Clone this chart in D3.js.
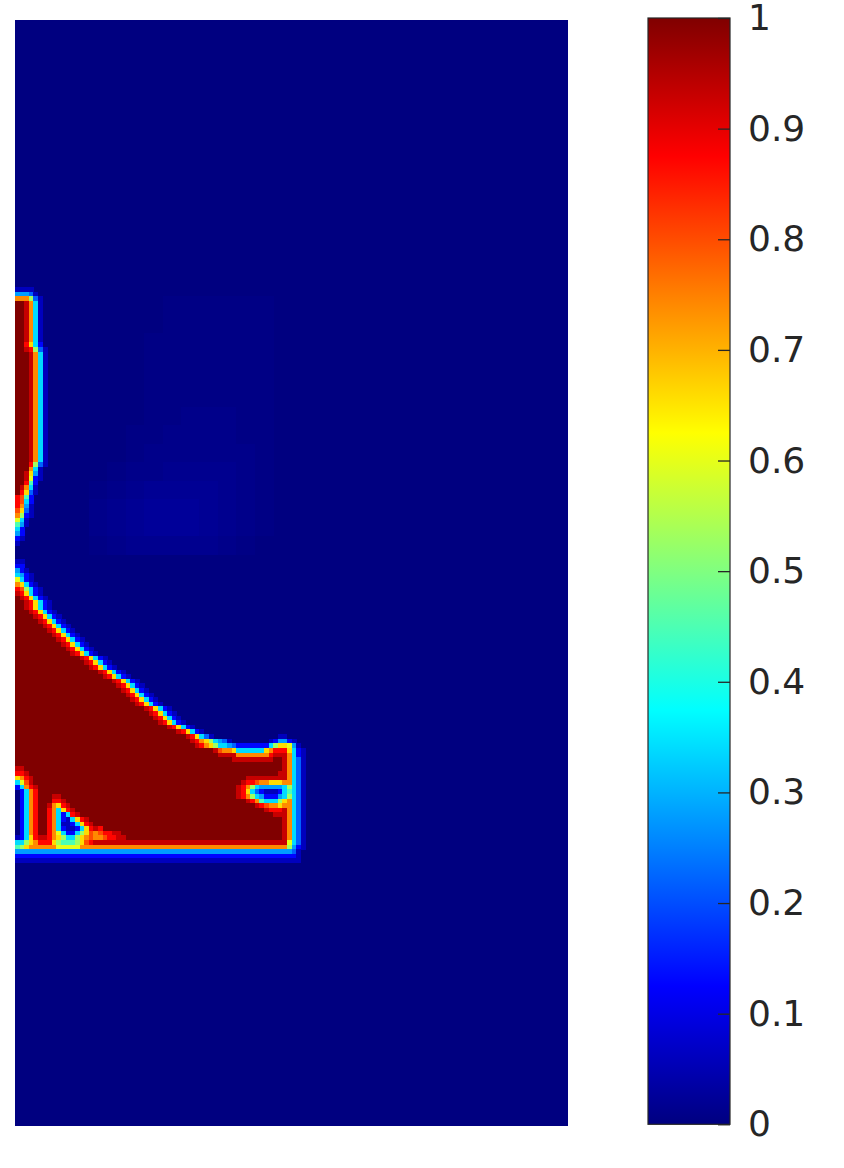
<!DOCTYPE html>
<html>
<head>
<meta charset="utf-8">
<script src="https://cdn.jsdelivr.net/npm/d3@7"></script>
<style>
body { margin: 0; background: #fff; }
svg { display: block; overflow: visible; }
</style>
</head>
<body>
<svg width="844" height="1168"></svg>
<script>
var svg = d3.select("svg");

// density field is 120 x 240 cells, everything outside the rows below is 0
var nCols = 120, nRows = 240;
var firstRow = 58;

// one char per density level
var levelKeys = ".dbBscagyYoOrR#";
var levelVals = [0, 0.06, 0.13, 0.22, 0.28, 0.34, 0.45, 0.53, 0.6, 0.66, 0.74, 0.8, 0.87, 0.93, 1];

// rows 58..182, run length coded: level char + count (no count = 1), rest of row = 0
var densityRows = [
  "d4", "s3Bd", "o3gBd",
  "#2Rocd", "#2Rocd", "#2Rocd", "#2Rocd", "#2Rocd", "#2Rocd", "#2Rocd", "#2Rocd", "#2Rocd",
  "#2rYcb", "#2RrgBd",
  "#3Rocd", "#3Rocd", "#3Rocd", "#3Rocd", "#3Rocd", "#3Rocd", "#3Rocd", "#3Rocd",
  "#3Rocd", "#3Rocd", "#3Rocd", "#3Rocd", "#3Rocd", "#3Rocd", "#3Rocd", "#3Rocd",
  "#3Rocd", "#3Rocd", "#3Rocd", "#3Rocd", "#3Rocd", "#3Rocd", "#3Rocd", "#3Rocd",
  "#3rgBd", "#3ocd", "#2RYsd", "#2Rybd", "#2rab", "#Rocd", "#rYBd", "rOab", "rOcb",
  "rosd", "OYBd", "ogbd", "ycd", "asd", "cb", "sb", "bd", "d",
  "", "", "",
  "d2", "b2", "sbd", "csbd", "ycbd", "oYcbd", "rOgcbd",
  "RrYcbd", "#RrYcbd", "#2RrYcbd", "#2RrYcbd", "#3RrYcbd", "#4RrYcbd", "#5RrYcbd",
  "#6RrYcbd", "#7RrYcbd", "#8RrYcbd", "#9RrYcbd", "#10RrYcbd", "#11RrYcbd", "#12RrYcbd",
  "#14RrYcbd", "#15RrYcbd", "#16RrYcbd", "#18RrYcbd", "#19RrYcbd", "#21RrYcbd", "#22RrYcbd",
  "#23RrYcbd", "#24RrYcbd", "#25RrYcbd", "#26RrYcbd", "#28RrYcbd", "#29RrYcbd", "#30RrYcbd",
  "#31RrYcbd", "#33RrYcbd", "#35RrYcbd",
  "#37RrYcBd.14d2",
  "#38RroYgcsBd.8dbs2bd",
  "#39RroYgc2sBb7cgY2ysd",
  "#43ROo2Yc6Yor3Ycbd",
  "#44R4o7rR3ocbd",
  "#47R9#2RocBd",
  "#58RocBd",
  "R2#56RocBd",
  "r2R#54R2ocBd",
  "YorR#46R9ocBd",
  "cyOR#45Rr2Oo2Y3o2cBd",
  "bcorR#43Rrogcs5cgcBd",
  ".bcor#43RrYcBbd3bcacBd",
  ".bcor#3R2#38Rrogcsb3scgcBd",
  ".bcor#3r2R#39Rroac3gYocBd",
  ".bcor#2RoYrR#40RrOo2Yo2cBd",
  ".bcor#2rocYrR#41Rr3RocBd",
  ".bcor#2rocbcrR#42R3ocBd",
  ".bcor#2rocbdcYrR#42RocBd",
  ".bcor#2rocd2bcYrR#41RocBd",
  ".bcor#2rocbd2bcYrRr#39RocBd",
  ".bcor#2roycb2cgYOoOr2R2#35RocBd",
  "dbcYrR2roYgc2gYoOo2Or2R2#34RocBd",
  "c2gYor3Yga3gYOrR42ycBd",
  "agYo6y5o45gsbd",
  "s60Bd",
  "b61d",
  "d62"
];

// faint low density patch, 4x4 cell blocks from row 56 / col 12, digit * 0.005
var blobRow0 = 56, blobCol0 = 12, blobStep = 4, blobLevel = 0.005;
var blobRows = [
  "000000000000",
  "000001111110",
  "000001111110",
  "000011111110",
  "000011111110",
  "000011111110",
  "000011111110",
  "000011222110",
  "000112222110",
  "000122222210",
  "001223333210",
  "012344443210",
  "023455543210",
  "023455543210",
  "012333332100",
  "000000000000"
];

var cbTicks = [0, 0.1, 0.2, 0.3, 0.4, 0.5, 0.6, 0.7, 0.8, 0.9, 1];
var cbLabels = ["0", "0.1", "0.2", "0.3", "0.4", "0.5", "0.6", "0.7", "0.8", "0.9", "1"];

// jet colormap
var jet = d3.scaleLinear()
  .domain([0, 0.125, 0.375, 0.625, 0.875, 1])
  .range(["#000080", "#0000ff", "#00ffff", "#ffff00", "#ff0000", "#800000"])
  .clamp(true);

function decodeRow(s) {
  var out = [];
  s.replace(/(\D)(\d*)/g, function (m, ch, n) {
    var k = n ? +n : 1;
    for (var i = 0; i < k; i++) out.push(levelVals[levelKeys.indexOf(ch)]);
    return m;
  });
  return out;
}

var field = new Map();
densityRows.forEach(function (s, i) {
  decodeRow(s).forEach(function (v, c) {
    if (v > 0) field.set((firstRow + i) * nCols + c, v);
  });
});
blobRows.forEach(function (s, k) {
  s.split("").forEach(function (ch, j) {
    var v = +ch * blobLevel;
    if (v <= 0) return;
    for (var r = 0; r < blobStep; r++) {
      for (var c = 0; c < blobStep; c++) {
        var key = (blobRow0 + k * blobStep + r) * nCols + blobCol0 + j * blobStep + c;
        field.set(key, Math.max(field.get(key) || 0, v));
      }
    }
  });
});
var cells = [];
field.forEach(function (v, key) {
  cells.push({ r: Math.floor(key / nCols), c: key % nCols, v: v });
});

var xScale = d3.scaleBand().domain(d3.range(nCols)).range([15, 568.3]).padding(0);
var yScale = d3.scaleBand().domain(d3.range(nRows)).range([20, 1125.7]).padding(0);

var g = svg.append("g").attr("shape-rendering", "crispEdges");
g.append("rect")
  .attr("x", 15).attr("y", 20)
  .attr("width", 553.3).attr("height", 1105.7)
  .attr("fill", jet(0));
g.selectAll("rect.cell").data(cells).join("rect")
  .attr("class", "cell")
  .attr("x", d => xScale(d.c))
  .attr("y", d => yScale(d.r))
  .attr("width", xScale.bandwidth() + 0.4)
  .attr("height", yScale.bandwidth() + 0.4)
  .attr("fill", d => jet(d.v));

// colorbar
var cbX = 648, cbW = 82, cbTop = 18, cbBottom = 1124.3;
var cbScale = d3.scaleLinear().domain([0, 1]).range([cbBottom, cbTop]);
var grad = svg.append("defs").append("linearGradient")
  .attr("id", "jetgrad").attr("x1", 0).attr("y1", 1).attr("x2", 0).attr("y2", 0);
grad.selectAll("stop").data(d3.range(0, 1.0001, 0.025)).join("stop")
  .attr("offset", d => d)
  .attr("stop-color", d => jet(d));
svg.append("rect")
  .attr("x", cbX).attr("y", cbTop)
  .attr("width", cbW).attr("height", cbBottom - cbTop)
  .attr("fill", "url(#jetgrad)")
  .attr("stroke", "#262626").attr("stroke-width", 1.2);

var cbAxis = d3.axisRight(cbScale)
  .tickValues(cbTicks)
  .tickFormat((d, i) => cbLabels[i])
  .tickSize(-12)
  .tickPadding(18);
var cbG = svg.append("g").attr("transform", `translate(${cbX + cbW},0)`).call(cbAxis);
cbG.select(".domain").remove();
cbG.selectAll("line").attr("stroke", "#262626").attr("stroke-width", 1.3);
cbG.selectAll("text")
  .attr("fill", "#262626")
  .attr("font-family", "DejaVu Sans")
  .attr("font-size", "36px");
</script>
</body>
</html>
